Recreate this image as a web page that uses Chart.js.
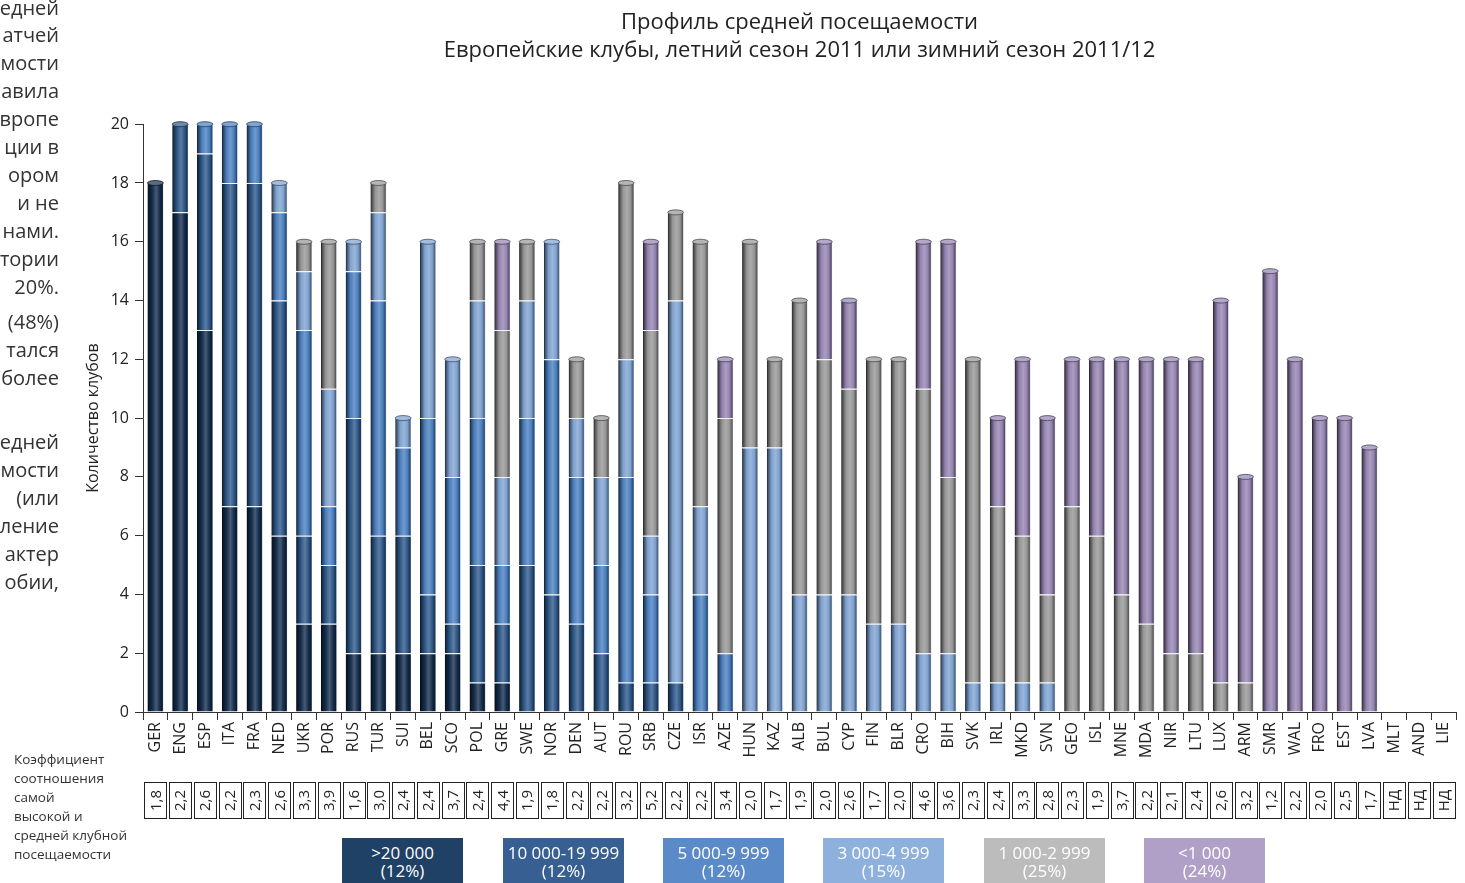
<!DOCTYPE html>
<html>
<head>
<meta charset="utf-8">
<script src="https://cdn.jsdelivr.net/npm/chart.js@4.4.1/dist/chart.umd.min.js"></script>
<style>
  body { margin: 0; background: #fff; overflow: hidden; font-family: 'Open Sans', sans-serif; color: #333; }
  #wrap { position: relative; width: 1465px; height: 883px; overflow: hidden; }
  #myChart { position: absolute; left: 0; top: 0; }
  .side { position: absolute; left: -240px; width: 299px; text-align: right; white-space: nowrap; font-size: 20px; line-height: 28px; color: #333; }
  .note { position: absolute; left: 14px; top: 750px; font-size: 13.5px; line-height: 19px; color: #333; }
  .band { position: absolute; top: 838px; width: 121px; height: 50px; color: #fff; text-align: center; font-size: 17px; line-height: 18px; padding-top: 6px; box-sizing: border-box; }
</style>
</head>
<body>
<div id="wrap">
  <canvas id="myChart" width="1465" height="883"></canvas>
  <div id="side"></div>
  <div class="note">Коэффициент<br>соотношения<br>самой<br>высокой и<br>средней клубной<br>посещаемости</div>
  <div id="bands"></div>
</div>
<script>
// countries (UEFA codes) and ratio of highest to average club attendance
var countries = ['GER','ENG','ESP','ITA','FRA','NED','UKR','POR','RUS','TUR','SUI','BEL','SCO','POL','GRE','SWE','NOR','DEN','AUT','ROU','SRB','CZE','ISR','AZE','HUN','KAZ','ALB','BUL','CYP','FIN','BLR','CRO','BIH','SVK','IRL','MKD','SVN','GEO','ISL','MNE','MDA','NIR','LTU','LUX','ARM','SMR','WAL','FRO','EST','LVA','MLT','AND','LIE'];
var ratios = ['1,8','2,2','2,6','2,2','2,3','2,6','3,3','3,9','1,6','3,0','2,4','2,4','3,7','2,4','4,4','1,9','1,8','2,2','2,2','3,2','5,2','2,2','2,2','3,4','2,0','1,7','1,9','2,0','2,6','1,7','2,0','4,6','3,6','2,3','2,4','3,3','2,8','2,3','1,9','3,7','2,2','2,1','2,4','2,6','3,2','1,2','2,2','2,0','2,5','1,7','НД','НД','НД'];

// number of clubs per attendance band
var over20k = [18,17,13,7,7,6,3,3,2,2,2,2,2,1,1,0,0,0,0,0,0,0,0,0,0,0,0,0,0,0,0,0,0,0,0,0,0,0,0,0,0,0,0,0,0,0,0,0,0,0,0,0,0];
var from10k = [0,3,6,11,11,8,3,2,8,4,4,2,1,4,2,5,4,3,2,1,1,1,0,0,0,0,0,0,0,0,0,0,0,0,0,0,0,0,0,0,0,0,0,0,0,0,0,0,0,0,0,0,0];
var from5k  = [0,0,1,2,2,3,7,2,5,8,3,6,5,5,2,5,8,5,3,7,3,0,4,2,0,0,0,0,0,0,0,0,0,0,0,0,0,0,0,0,0,0,0,0,0,0,0,0,0,0,0,0,0];
var from3k  = [0,0,0,0,0,1,2,4,1,3,1,6,4,4,3,4,4,2,3,4,2,13,3,0,9,9,4,4,4,3,3,2,2,1,1,1,1,0,0,0,0,0,0,0,0,0,0,0,0,0,0,0,0];
var from1k  = [0,0,0,0,0,0,1,5,0,1,0,0,0,2,5,2,0,2,2,6,7,3,9,8,7,3,10,8,7,9,9,9,6,11,6,5,3,7,6,4,3,2,2,1,1,0,0,0,0,0,0,0,0];
var under1k = [0,0,0,0,0,0,0,0,0,0,0,0,0,0,3,0,0,0,0,0,3,0,0,2,0,0,0,4,3,0,0,5,8,0,3,6,6,5,6,8,9,10,10,13,7,15,12,10,10,9,0,0,0];

var bandLabels = ['>20 000','10 000-19 999','5 000-9 999','3 000-4 999','1 000-2 999','<1 000'];
var bandShares = ['(12%)','(12%)','(12%)','(15%)','(25%)','(24%)'];
var barColors = ['#142d4c','#2e5787','#4a7ebd','#7ea1cf','#959595','#9383af'];
var legendColors = ['#1f4165','#375f91','#5a8ac8','#8eb0dc','#bcbcbc','#b0a0c8'];

var sideLines = ['едней','атчей','мости','авила','вропе','ции в','ором','и не','нами.','тории','20%.','(48%)','тался','более','','едней','мости','(или','ление','актер','обии,'];
var sideTops = [-6,21,49,77,105,133,161,189,217,245,273,308,336,364,0,428,456,484,512,540,568];

var BAR_PCT = 0.64;

// side text (cut-off paragraph)
var side = document.getElementById('side');
sideLines.forEach(function (t, i) {
  if (!t) return;
  var d = document.createElement('div');
  d.className = 'side';
  d.style.top = sideTops[i] + 'px';
  d.textContent = t;
  side.appendChild(d);
});

// legend boxes
var bands = document.getElementById('bands');
var bandLeft = [342, 503, 663, 823, 984, 1144];
bandLabels.forEach(function (t, i) {
  var d = document.createElement('div');
  d.className = 'band';
  d.style.left = bandLeft[i] + 'px';
  d.style.background = legendColors[i];
  d.innerHTML = t + '<br>' + bandShares[i];
  bands.appendChild(d);
});

function mix(hex, t) {
  var n = parseInt(hex.slice(1), 16);
  var r = n >> 16, g = (n >> 8) & 255, b = n & 255;
  var target = t < 0 ? 0 : 255, a = Math.abs(t);
  r = Math.round(r + (target - r) * a);
  g = Math.round(g + (target - g) * a);
  b = Math.round(b + (target - b) * a);
  return 'rgb(' + r + ',' + g + ',' + b + ')';
}

// horizontal gradient so each bar looks like a cylinder
function cylinder(base) {
  return function (ctx) {
    var chart = ctx.chart;
    var xs = chart.scales && chart.scales.x;
    if (!chart.chartArea || !xs || ctx.dataIndex === undefined) return base;
    var cx = xs.getPixelForValue(ctx.dataIndex);
    var hw = xs.width / countries.length * BAR_PCT / 2;
    var g = chart.ctx.createLinearGradient(cx - hw, 0, cx + hw, 0);
    g.addColorStop(0, mix(base, -0.8));
    g.addColorStop(0.1, mix(base, -0.45));
    g.addColorStop(0.3, base);
    g.addColorStop(0.55, mix(base, 0.22));
    g.addColorStop(0.78, base);
    g.addColorStop(0.93, mix(base, -0.4));
    g.addColorStop(1, mix(base, 0.25));
    return g;
  };
}

var capPlugin = {
  id: 'caps',
  afterDatasetsDraw: function (chart) {
    var c = chart.ctx;
    countries.forEach(function (_, i) {
      for (var d = chart.data.datasets.length - 1; d >= 0; d--) {
        if (chart.data.datasets[d].data[i] > 0) {
          var el = chart.getDatasetMeta(d).data[i];
          var w = el.width, base = barColors[d];
          c.save();
          c.beginPath();
          c.ellipse(el.x, el.y, w / 2, 2.5, 0, 0, Math.PI * 2);
          c.fillStyle = mix(base, 0.3);
          c.fill();
          c.strokeStyle = mix(base, -0.5);
          c.lineWidth = 0.8;
          c.stroke();
          c.restore();
          break;
        }
      }
    });
  }
};

var ratioPlugin = {
  id: 'ratios',
  afterDraw: function (chart) {
    var c = chart.ctx, xs = chart.scales.x;
    c.save();
    c.font = '15px "Open Sans"';
    c.fillStyle = '#222';
    c.strokeStyle = '#222';
    c.lineWidth = 1;
    ratios.forEach(function (r, i) {
      var x = xs.getPixelForValue(i);
      c.strokeRect(Math.round(x - 11) + 0.5, 782.5, 22, 36);
      c.save();
      c.translate(x + 1, 800.5);
      c.rotate(-Math.PI / 2);
      c.textAlign = 'center';
      c.textBaseline = 'middle';
      c.fillText(r, 0, 0);
      c.restore();
    });
    c.restore();
  }
};

var series = [over20k, from10k, from5k, from3k, from1k, under1k];

var ctx = document.getElementById('myChart').getContext('2d');
var chart = new Chart(ctx, {
  type: 'bar',
  data: {
    labels: countries,
    datasets: series.map(function (s, i) {
      return {
        label: bandLabels[i],
        data: s,
        backgroundColor: cylinder(barColors[i]),
        borderColor: 'rgba(215,222,235,0.35)',
        borderWidth: function (c) { return c.raw ? { top: 1, left: 0, right: 0, bottom: 0 } : 0; },
        borderSkipped: false,
        barPercentage: BAR_PCT,
        categoryPercentage: 1
      };
    })
  },
  options: {
    responsive: false,
    animation: false,
    layout: { padding: { left: 81, right: 0, top: 0, bottom: 0 } },
    scales: {
      x: {
        stacked: true,
        afterFit: function (s) { s.height = 171; },
        grid: { offset: true, drawOnChartArea: false, tickLength: 8, color: '#333' },
        border: { color: '#333' },
        ticks: {
          autoSkip: false, minRotation: 90, maxRotation: 90, padding: 2,
          color: '#222', font: { family: 'Open Sans', size: 16 }
        }
      },
      y: {
        stacked: true,
        min: 0,
        max: 20,
        afterFit: function (s) { s.width = 62; },
        grid: { drawOnChartArea: false, tickLength: 8, color: '#333' },
        border: { color: '#333' },
        ticks: { stepSize: 2, padding: 6, color: '#222', font: { family: 'Open Sans', size: 16 } },
        title: {
          display: true,
          text: 'Количество клубов',
          color: '#222',
          padding: { top: 3, bottom: 0 },
          font: { family: 'Open Sans', size: 16 }
        }
      }
    },
    plugins: {
      legend: { display: false },
      tooltip: { enabled: false },
      title: {
        display: true,
        fullSize: false,
        text: ['Профиль средней посещаемости', 'Европейские клубы, летний сезон 2011 или зимний сезон 2011/12'],
        color: '#222',
        padding: { top: 8, bottom: 59 },
        font: { family: 'Open Sans', size: 22, weight: 'normal', lineHeight: 1.3 }
      }
    }
  },
  plugins: [capPlugin, ratioPlugin]
});
</script>
</body>
</html>
